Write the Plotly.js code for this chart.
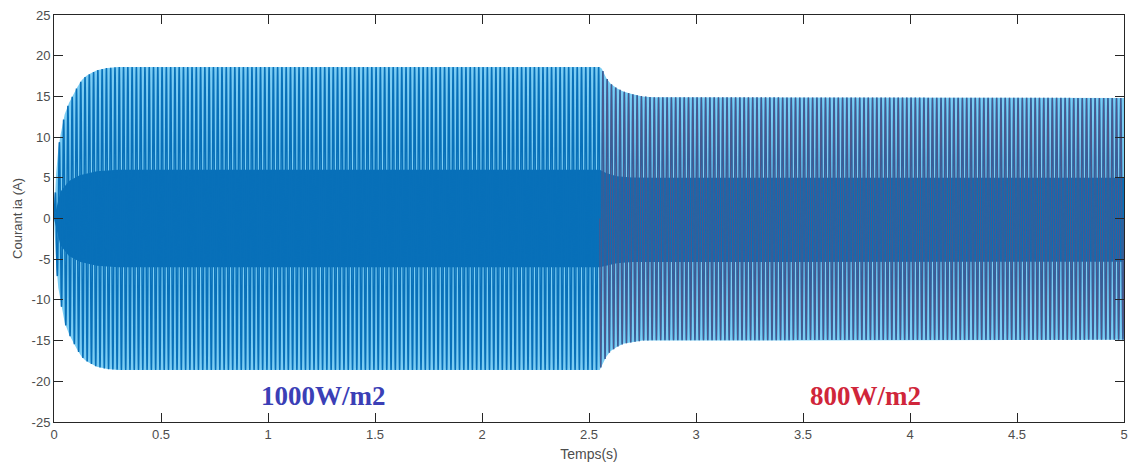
<!DOCTYPE html>
<html>
<head>
<meta charset="utf-8">
<script src="https://cdn.plot.ly/plotly-3.0.1.min.js"></script>
<style>
html,body{margin:0;padding:0;background:#fff;}
#chart{width:1129px;height:470px;}
</style>
</head>
<body>
<div id="chart"></div>
<script>
// ---- data ----
// envelope of the phase current (peak values, A) at given times (s)
var envTime  = [0, 0.01, 0.02, 0.03, 0.05, 0.07, 0.09, 0.11, 0.13, 0.15, 0.17, 0.20, 0.25, 0.30, 2.55, 2.56, 2.58, 2.60, 2.63, 2.66, 2.70, 2.75, 2.80, 5.00];
var envUpper = [0, 5.5, 8.5, 10.2, 12.8, 14.2, 15.2, 16.2, 17.0, 17.5, 17.8, 18.2, 18.5, 18.6, 18.6, 18.4, 17.3, 16.6, 16.0, 15.6, 15.3, 15.0, 14.9, 14.8];
var envLower = [0, -5.5, -8.5, -10.2, -12.8, -14.2, -15.2, -16.2, -17.0, -17.5, -17.8, -18.2, -18.5, -18.6, -18.6, -18.0, -17.0, -16.3, -15.8, -15.4, -15.2, -15.0, -14.95, -14.9];
// dense (solid) core of the trace, where the strokes merge (A)
var coreTime  = [0, 0.03, 0.07, 0.12, 0.20, 0.30, 2.55, 2.58, 2.63, 2.70, 2.80, 5.00];
var coreUpper = [0, 3.3, 4.6, 5.3, 5.8, 6.0, 6.0, 5.6, 5.2, 5.05, 5.0, 5.0];
var coreLower = [0, -3.3, -4.6, -5.3, -5.8, -6.0, -6.0, -5.8, -5.5, -5.35, -5.3, -5.3];
var gridFreq = 50;            // Hz, counted from the stripes (~50 cycles per second)
var stepTime = 2.55;          // s, irradiance step
var stepLabels = ["1000W/m2", "800W/m2"];
var labelTimes = [1.26, 3.79];
var labelLevel = -21.8;
var xTicks = [0, 0.5, 1, 1.5, 2, 2.5, 3, 3.5, 4, 4.5, 5];
var yTicks = [-25, -20, -15, -10, -5, 0, 5, 10, 15, 20, 25];

// ---- build waveform from envelope + frequency ----
function interp(t, xs, ys){
  if (t <= xs[0]) return ys[0];
  for (var i = 1; i < xs.length; i++){
    if (t <= xs[i]){
      var f = (t - xs[i-1]) / (xs[i] - xs[i-1]);
      return ys[i-1] + f * (ys[i] - ys[i-1]);
    }
  }
  return ys[ys.length-1];
}
var spc = 40;
var n = Math.round(5 * gridFreq * spc);
var tx = [], iy = [], tr = [], ir = [];
for (var k = 0; k <= n; k++){
  var t = k / (gridFreq * spc);
  var s = Math.sin(2 * Math.PI * gridFreq * t);
  var v = s >= 0 ? s * interp(t, envTime, envUpper) : -s * interp(t, envTime, envLower);
  tx.push(t); iy.push(v);
  if (t >= stepTime){ tr.push(t); ir.push(v); }
}
var bandX = envTime.concat(envTime.slice().reverse());
var bandY = envUpper.concat(envLower.slice().reverse());
var coreX = coreTime.concat(coreTime.slice().reverse());
var coreY = coreUpper.concat(coreLower.slice().reverse());

var traces = [
  {x: bandX, y: bandY, type: 'scatter', mode: 'lines', fill: 'toself',
   fillcolor: '#7ccdf3', line: {width: 0}, hoverinfo: 'skip', showlegend: false},
  {x: coreX, y: coreY, type: 'scatter', mode: 'lines', fill: 'toself',
   fillcolor: '#0870b9', line: {width: 0}, hoverinfo: 'skip', showlegend: false},
  {x: tx, y: iy, type: 'scatter', mode: 'lines',
   line: {color: '#0870b9', width: 1.5, simplify: false}, showlegend: false},
  {x: tr, y: ir, type: 'scatter', mode: 'lines', opacity: 0.33,
   line: {color: '#d9232f', width: 1.1, simplify: false}, showlegend: false}
];

var axCommon = {
  showgrid: false, zeroline: false, showline: true, mirror: 'ticks',
  linecolor: '#262626', linewidth: 1, ticks: 'inside', ticklen: 9,
  tickcolor: '#262626', tickwidth: 1,
  tickfont: {family: 'Liberation Sans, Arial, sans-serif', size: 13, color: '#4d4d4d'}
};
var layout = {
  width: 1129, height: 470,
  margin: {l: 54, r: 5, t: 15, b: 48},
  paper_bgcolor: '#ffffff', plot_bgcolor: '#ffffff',
  xaxis: Object.assign({}, axCommon, {
    range: [0, 5], tickvals: xTicks, ticktext: xTicks.map(String),
    title: {text: 'Temps(s)', standoff: 8,
      font: {family: 'Liberation Sans, Arial, sans-serif', size: 14, color: '#4d4d4d'}}
  }),
  yaxis: Object.assign({}, axCommon, {
    range: [-25, 25], tickvals: yTicks, ticktext: yTicks.map(String),
    title: {text: 'Courant ia (A)', standoff: 6,
      font: {family: 'Liberation Sans, Arial, sans-serif', size: 13, color: '#4d4d4d'}}
  }),
  annotations: [
    {x: labelTimes[0], y: labelLevel, xref: 'x', yref: 'y', text: '<b>' + stepLabels[0] + '</b>',
     showarrow: false, font: {family: 'Liberation Serif, Times New Roman, serif', size: 27, color: '#3b3fb6'}},
    {x: labelTimes[1], y: labelLevel, xref: 'x', yref: 'y', text: '<b>' + stepLabels[1] + '</b>',
     showarrow: false, font: {family: 'Liberation Serif, Times New Roman, serif', size: 27, color: '#d0263a'}}
  ]
};
Plotly.newPlot('chart', traces, layout, {displayModeBar: false, staticPlot: true});
</script>
</body>
</html>
